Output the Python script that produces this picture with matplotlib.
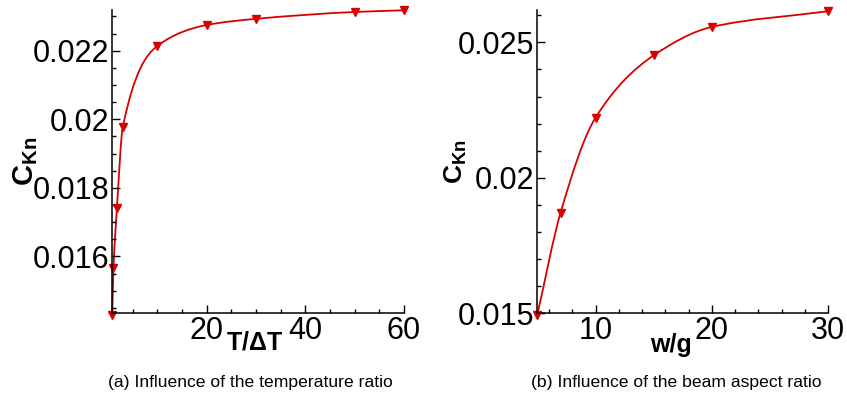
import numpy as np
import matplotlib
matplotlib.use('Agg')
import matplotlib.pyplot as plt
from matplotlib.path import Path
from matplotlib.patches import PathPatch
from matplotlib.ticker import MultipleLocator, FuncFormatter

plt.rcParams['font.family'] = ['Liberation Sans', 'DejaVu Sans']
plt.rcParams['mathtext.fontset'] = 'custom'
plt.rcParams['mathtext.rm'] = 'Liberation Sans'
plt.rcParams['mathtext.bf'] = 'Liberation Sans:bold'

# (a) influence of the temperature ratio
temp_ratio = [0.85, 1.1, 1.8, 3, 10, 20, 30, 50, 60]
ckn_temp = [0.01428, 0.01565, 0.0174, 0.01978, 0.02214, 0.02275, 0.02293, 0.02313, 0.02318]

# (b) influence of the beam aspect ratio
aspect_ratio = [5, 7, 10, 15, 20, 30]
ckn_aspect = [0.01495, 0.01872, 0.02222, 0.02452, 0.02557, 0.02615]

RED = '#d80000'


def smooth_path(x, y):
    # monotone cubic (Hermite) segments as bezier curves
    x = np.asarray(x, float)
    y = np.asarray(y, float)
    h = np.diff(x)
    d = np.diff(y) / h
    m = np.zeros(len(x))
    m[0], m[-1] = d[0], d[-1]
    for i in range(1, len(x) - 1):
        if d[i - 1] * d[i] > 0:
            w1 = 2 * h[i] + h[i - 1]
            w2 = h[i] + 2 * h[i - 1]
            m[i] = (w1 + w2) / (w1 / d[i - 1] + w2 / d[i])
    verts = [(x[0], y[0])]
    codes = [Path.MOVETO]
    for i in range(len(h)):
        verts += [(x[i] + h[i] / 3, y[i] + m[i] * h[i] / 3),
                  (x[i + 1] - h[i] / 3, y[i + 1] - m[i + 1] * h[i] / 3),
                  (x[i + 1], y[i + 1])]
        codes += [Path.CURVE4] * 3
    return Path(verts, codes)


def style(ax):
    for s in ['top', 'right']:
        ax.spines[s].set_visible(False)
    for s in ['left', 'bottom']:
        ax.spines[s].set_linewidth(1.1)
    ax.tick_params(which='both', direction='in', top=False, right=False, width=1.0)
    ax.tick_params(which='major', length=6, labelsize=22, pad=2)
    ax.tick_params(which='minor', length=3)
    ax.yaxis.set_major_formatter(FuncFormatter(lambda v, p: '{:g}'.format(round(v, 6))))


fig = plt.figure(figsize=(8.47, 3.96), dpi=100)

ax1 = fig.add_axes([0.1322, 0.2088, 0.3447, 0.767])
ax1.add_patch(PathPatch(smooth_path(temp_ratio, ckn_temp), fill=False, ec=RED, lw=1.3, clip_on=False))
ax1.plot(temp_ratio, ckn_temp, ls='none', marker='v', ms=6, color=RED, clip_on=False)
ax1.set_xlim(0.8, 60)
ax1.set_ylim(0.01434, 0.0232)
ax1.xaxis.set_major_locator(MultipleLocator(20))
ax1.xaxis.set_minor_locator(MultipleLocator(5))
ax1.yaxis.set_major_locator(MultipleLocator(0.002))
ax1.yaxis.set_minor_locator(MultipleLocator(0.0005))
style(ax1)
ax1.set_xlabel(r'T/$\mathbf{\Delta}$T', fontsize=18, fontweight='bold', va='center')
ax1.xaxis.set_label_coords(0.49, -0.096)
ax1.set_ylabel(r'$\mathbf{C}_{\mathbf{Kn}}$', fontsize=21, va='center')
ax1.yaxis.set_label_coords(-0.295, 0.5)

ax2 = fig.add_axes([0.6344, 0.2088, 0.3434, 0.767])
ax2.add_patch(PathPatch(smooth_path(aspect_ratio, ckn_aspect), fill=False, ec=RED, lw=1.3, clip_on=False))
ax2.plot(aspect_ratio, ckn_aspect, ls='none', marker='v', ms=6, color=RED, clip_on=False)
ax2.set_xlim(5, 30)
ax2.set_ylim(0.015, 0.02621)
ax2.xaxis.set_major_locator(MultipleLocator(10))
ax2.xaxis.set_minor_locator(MultipleLocator(2))
ax2.yaxis.set_major_locator(MultipleLocator(0.005))
ax2.yaxis.set_minor_locator(MultipleLocator(0.001))
style(ax2)
ax2.set_xlabel('w/g', fontsize=18, fontweight='bold', va='center')
ax2.xaxis.set_label_coords(0.46, -0.103)
ax2.set_ylabel(r'$\mathbf{C}_{\mathbf{Kn}}$', fontsize=19, va='center')
ax2.yaxis.set_label_coords(-0.282, 0.5)

fig.text(250 / 847, 1 - 383 / 396, '(a) Influence of the temperature ratio', fontsize=12.6, ha='center', va='center')
fig.text(676 / 847, 1 - 383 / 396, '(b) Influence of the beam aspect ratio', fontsize=12.6, ha='center', va='center')

fig.savefig('out.png', dpi=100)
